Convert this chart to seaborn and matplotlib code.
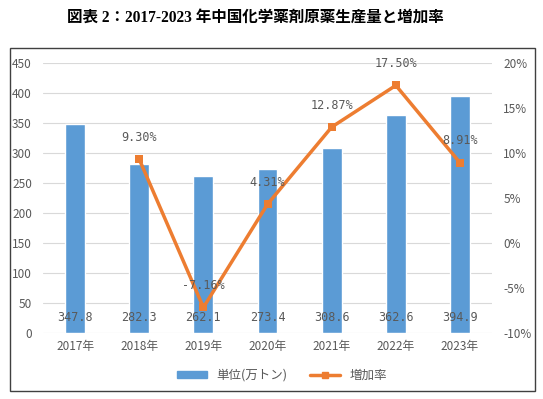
import matplotlib
matplotlib.use("Agg")
import matplotlib.pyplot as plt
from matplotlib.patches import Rectangle
from matplotlib.lines import Line2D
from matplotlib.patches import Patch
import seaborn as sns

years = ["2017年", "2018年", "2019年", "2020年", "2021年", "2022年", "2023年"]
output = [347.8, 282.3, 262.1, 273.4, 308.6, 362.6, 394.9]
growth_years = ["2018年", "2019年", "2020年", "2021年", "2022年", "2023年"]
growth = [9.30, -7.16, 4.31, 12.87, 17.50, 8.91]

blue = "#5B9BD5"
orange = "#ED7D31"
grey = "#595959"

sns.set_theme(style="white")
plt.rcParams["font.family"] = ["Noto Sans CJK JP", "DejaVu Sans"]

fig = plt.figure(figsize=(5.43, 3.99), dpi=100)
ax = fig.add_axes([0.0792, 0.1654, 0.827, 0.677])

sns.barplot(x=years, y=output, color=blue, width=0.31, saturation=1, ax=ax)
ax.set_ylim(0, 450)
ax.set_yticks(range(0, 451, 50))
ax.set_xlim(-0.5, 6.5)
ax.grid(axis="y", color="#D9D9D9", linewidth=0.8)
ax.set_axisbelow(True)
for s in ax.spines.values():
    s.set_visible(False)
ax.tick_params(axis="both", length=0, labelsize=8.5, colors=grey)
ax.tick_params(axis="y", pad=8)
ax.tick_params(axis="x", pad=5)

for i, v in enumerate(output):
    ax.text(i, 25, f"{v}", ha="center", va="center", fontsize=8.5,
            color=grey, family="DejaVu Sans Mono")

ax2 = ax.twinx()
xpos = [years.index(y) for y in growth_years]
sns.lineplot(x=xpos, y=growth, ax=ax2, color=orange, linewidth=2.5,
             marker="s", markersize=6, markeredgewidth=0)
ax2.set_ylim(-10, 20)
ax2.set_yticks(range(-10, 21, 5))
ax2.set_yticklabels([f"{t}%" for t in range(-10, 21, 5)])
for s in ax2.spines.values():
    s.set_visible(False)
ax2.tick_params(axis="y", length=0, labelsize=8.5, colors=grey, pad=8)
ax2.grid(False)
for x, g in zip(xpos, growth):
    ax2.annotate(f"{g:.2f}%", (x, g), xytext=(0, 11), textcoords="offset points",
                 ha="center", va="bottom", fontsize=8.5, color=grey,
                 family="DejaVu Sans Mono")

handles = [Patch(color=blue), Line2D([], [], color=orange, lw=2.5, marker="s", markersize=5)]
fig.legend(handles, ["単位(万トン)", "増加率"], loc="center", bbox_to_anchor=(282 / 543, 0.06),
           ncol=2, frameon=False, fontsize=9, labelcolor=grey, handlelength=2.4,
           handleheight=0.5, columnspacing=1.8)

fig.patches.append(Rectangle((10 / 543, 1 - 391 / 399), 525 / 543, 343 / 399,
                             transform=fig.transFigure, fill=False,
                             edgecolor="#404040", linewidth=1))

fig.text(255 / 543, 1 - 18 / 399, "図表 2：2017-2023 年中国化学薬剤原薬生産量と増加率",
         ha="center", va="center", fontsize=11.2, fontweight="bold", color="black",
         family=["Liberation Serif", "Noto Sans CJK JP"])

fig.savefig("out.png", dpi=100, facecolor="white")
